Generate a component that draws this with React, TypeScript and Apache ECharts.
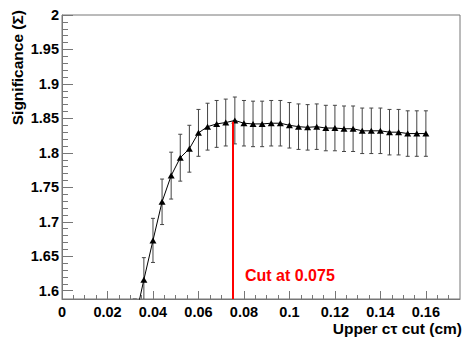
import React, { useEffect, useRef } from "react";
import * as echarts from "echarts";

// Upper c-tau cut values (cm)
const cutValues = [
  0.032, 0.036, 0.040, 0.044, 0.048, 0.052, 0.056, 0.060, 0.064, 0.068, 0.072,
  0.076, 0.080, 0.084, 0.088, 0.092, 0.096, 0.100, 0.104, 0.108, 0.112, 0.116,
  0.120, 0.124, 0.128, 0.132, 0.136, 0.140, 0.144, 0.148, 0.152, 0.156, 0.160,
];
// Significance values
const significance = [
  1.556, 1.616, 1.673, 1.729, 1.767, 1.793, 1.806, 1.829, 1.838, 1.842, 1.844,
  1.847, 1.843, 1.842, 1.842, 1.843, 1.843, 1.840, 1.838, 1.837, 1.838, 1.836,
  1.836, 1.835, 1.835, 1.832, 1.832, 1.832, 1.830, 1.830, 1.828, 1.828, 1.828,
];
// Symmetric errors
const errors = [
  0.032, 0.032, 0.032, 0.033, 0.034, 0.034, 0.034, 0.034, 0.034, 0.034, 0.034,
  0.034, 0.033, 0.033, 0.033, 0.033, 0.033, 0.033, 0.033, 0.033, 0.033, 0.033,
  0.033, 0.033, 0.033, 0.033, 0.033, 0.033, 0.033, 0.033, 0.033, 0.033, 0.033,
];

const xMin = 0;
const xMax = 0.175;
const yMin = 1.588;
const yMax = 2;
const xMajorTicks = [0, 0.02, 0.04, 0.06, 0.08, 0.1, 0.12, 0.14, 0.16];
const xMinorTicks = [
  0.005, 0.01, 0.015, 0.025, 0.03, 0.035, 0.045, 0.05, 0.055, 0.065, 0.07,
  0.075, 0.085, 0.09, 0.095, 0.105, 0.11, 0.115, 0.125, 0.13, 0.135, 0.145,
  0.15, 0.155, 0.165, 0.17,
];
const yMajorTicks = [1.6, 1.65, 1.7, 1.75, 1.8, 1.85, 1.9, 1.95, 2];
const yMinorTicks = [
  1.61, 1.62, 1.63, 1.64, 1.66, 1.67, 1.68, 1.69, 1.71, 1.72, 1.73, 1.74,
  1.76, 1.77, 1.78, 1.79, 1.81, 1.82, 1.83, 1.84, 1.86, 1.87, 1.88, 1.89,
  1.91, 1.92, 1.93, 1.94, 1.96, 1.97, 1.98, 1.99,
];
const cutValue = 0.075;
const cutTop = 1.845;
const cutLabel = "Cut at 0.075";
const xTitle = "Upper c\u03c4 cut (cm)";
const yTitle = "Significance (\u03a3)";

const FONT = "'Liberation Sans', Arial, Helvetica, sans-serif";
const AXIS_COLOR = "#777";

export default function App() {
  const ref = useRef<HTMLDivElement>(null);

  useEffect(() => {
    if (!ref.current) return;
    const chart = echarts.init(ref.current, undefined, { renderer: "svg" });

    const points = cutValues.map((x, i) => [x, significance[i]]);
    const errData = cutValues.map((x, i) => [x, significance[i], errors[i]]);

    const baseX = {
      type: "value" as const,
      min: xMin,
      max: xMax,
      position: "bottom" as const,
      splitLine: { show: false },
    };
    const baseY = {
      type: "value" as const,
      min: yMin,
      max: yMax,
      position: "left" as const,
      splitLine: { show: false },
    };

    chart.setOption({
      animation: false,
      backgroundColor: "#ffffff",
      grid: {
        left: 62,
        top: 15,
        right: 4,
        bottom: 40,
        show: true,
        borderColor: AXIS_COLOR,
        borderWidth: 1,
        backgroundColor: "transparent",
      },
      xAxis: [
        {
          ...baseX,
          axisLine: { show: true, lineStyle: { color: AXIS_COLOR, width: 1 } },
          axisTick: {
            show: true,
            inside: true,
            length: 8,
            customValues: xMajorTicks,
            lineStyle: { color: AXIS_COLOR },
          },
          axisLabel: {
            show: true,
            customValues: xMajorTicks,
            margin: 5,
            color: "#000",
            fontFamily: FONT,
            fontWeight: "bold",
            fontSize: 14.5,
          },
        },
        {
          ...baseX,
          axisLine: { show: false },
          axisTick: {
            show: true,
            inside: true,
            length: 4,
            customValues: xMinorTicks,
            lineStyle: { color: AXIS_COLOR },
          },
          axisLabel: { show: false },
        },
      ],
      yAxis: [
        {
          ...baseY,
          axisLine: { show: true, lineStyle: { color: AXIS_COLOR, width: 1 } },
          axisTick: {
            show: true,
            inside: true,
            length: 11,
            customValues: yMajorTicks,
            lineStyle: { color: AXIS_COLOR },
          },
          axisLabel: {
            show: true,
            customValues: yMajorTicks,
            margin: 3,
            color: "#000",
            fontFamily: FONT,
            fontWeight: "bold",
            fontSize: 14.5,
          },
        },
        {
          ...baseY,
          axisLine: { show: false },
          axisTick: {
            show: true,
            inside: true,
            length: 6,
            customValues: yMinorTicks,
            lineStyle: { color: AXIS_COLOR },
          },
          axisLabel: { show: false },
        },
      ],
      series: [
        {
          type: "custom",
          name: "errors",
          xAxisIndex: 0,
          yAxisIndex: 0,
          clip: true,
          silent: true,
          data: errData,
          renderItem: (params: any, api: any) => {
            const x = api.value(0);
            const y = api.value(1);
            const e = api.value(2);
            const top = api.coord([x, y + e]);
            const bot = api.coord([x, y - e]);
            const cap = 2;
            const style = { stroke: "#444", lineWidth: 1 };
            return {
              type: "group",
              children: [
                {
                  type: "line",
                  shape: { x1: top[0], y1: top[1], x2: bot[0], y2: bot[1] },
                  style,
                },
                {
                  type: "line",
                  shape: { x1: top[0] - cap, y1: top[1], x2: top[0] + cap, y2: top[1] },
                  style,
                },
                {
                  type: "line",
                  shape: { x1: bot[0] - cap, y1: bot[1], x2: bot[0] + cap, y2: bot[1] },
                  style,
                },
              ],
            };
          },
          encode: { x: 0, y: 1 },
        },
        {
          type: "line",
          name: "significance",
          xAxisIndex: 0,
          yAxisIndex: 0,
          data: points,
          clip: true,
          symbol: "triangle",
          symbolSize: [7, 6],
          showAllSymbol: true,
          itemStyle: { color: "#000" },
          lineStyle: { color: "#000", width: 1 },
          markLine: {
            silent: true,
            symbol: ["none", "none"],
            label: { show: false },
            lineStyle: { color: "#ff0000", width: 2, type: "solid" },
            data: [
              [
                { coord: [cutValue, yMin] },
                { coord: [cutValue, cutTop] },
              ],
            ],
          },
          z: 3,
        },
      ],
      graphic: [
        {
          type: "text",
          x: 245,
          y: 267,
          style: {
            text: cutLabel,
            fill: "#ff0000",
            font: `bold 16px ${FONT}`,
            textAlign: "left",
            textVerticalAlign: "top",
          },
        },
        {
          type: "text",
          x: 462,
          y: 320,
          style: {
            text: xTitle,
            fill: "#000",
            font: `bold 15.5px ${FONT}`,
            textAlign: "right",
            textVerticalAlign: "top",
          },
        },
        {
          type: "text",
          x: 17,
          y: 10,
          rotation: Math.PI / 2,
          style: {
            text: yTitle,
            fill: "#000",
            font: `bold 15.5px ${FONT}`,
            textAlign: "right",
            textVerticalAlign: "middle",
          },
        },
      ],
    });

    return () => {
      chart.dispose();
    };
  }, []);

  return (
    <div
      ref={ref}
      style={{
        position: "absolute",
        left: 0,
        top: 0,
        width: 464,
        height: 339,
        background: "#fff",
      }}
    />
  );
}
